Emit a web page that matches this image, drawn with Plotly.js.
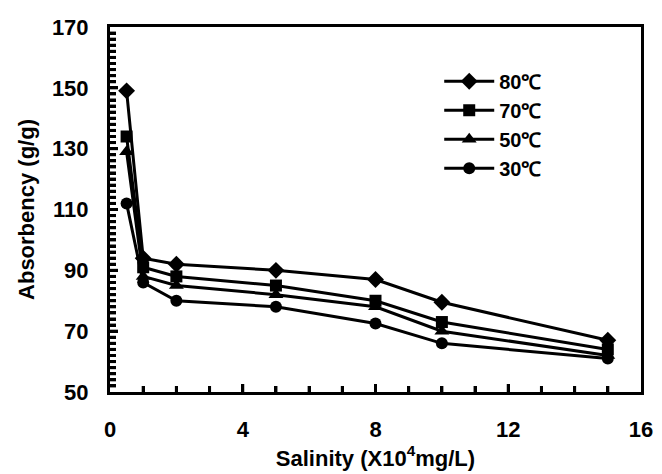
<!DOCTYPE html>
<html><head><meta charset="utf-8">
<script src="https://cdn.plot.ly/plotly-3.0.1.min.js"></script>
<style>html,body{margin:0;padding:0;background:#fff}</style>
</head><body>
<div id="chart" style="width:662px;height:474px"></div>
<script>
const salinity = [0.5, 1, 2, 5, 8, 10, 15];
const seriesNames = ['80℃', '70℃', '50℃', '30℃'];
const abs80 = [149, 94, 92, 90, 87, 79.5, 67];
const abs70 = [134, 91, 88, 85, 80, 73, 64];
const abs50 = [129, 88, 85, 82, 78, 70, 62];
const abs30 = [112, 86, 80, 78, 72.5, 66, 61];
const xRange = [0, 16];
const yRange = [50, 170];
const xTickStep = 4, xMinorStep = 1;
const yTickStep = 20, yMinorStep = 2;

const symbols = ['diamond', 'square', 'triangle-up', 'circle'];
const sizes = [13, 12, 13, 12];
const allY = [abs80, abs70, abs50, abs30];
const FAM = 'Liberation Sans, Arial, sans-serif';
const tickF = {family: FAM, size: 22, color: '#000', weight: 'bold'};
const titleF = {family: FAM, size: 22, color: '#000', weight: 'bold'};
const legF = {family: FAM, size: 20, color: '#000', weight: 'bold'};

const traces = allY.map((y, i) => ({
  x: salinity, y: y, name: seriesNames[i], type: 'scatter', mode: 'lines+markers',
  line: {color: '#000', width: 3},
  marker: {symbol: symbols[i], size: sizes[i], color: '#000'}
}));

// inward tick marks along the left and bottom axes (axis furniture, in axis units)
const shapes = [];
for (let v = xRange[0] + xMinorStep; v < xRange[1]; v += xMinorStep) {
  const len = (v % xTickStep === 0) ? 8 : 6;
  shapes.push({type: 'line', layer: 'above', xref: 'x', yref: 'y', ysizemode: 'pixel', yanchor: yRange[0],
    x0: v, x1: v, y0: 0, y1: len, line: {color: '#000', width: 3}});
}
for (let v = yRange[0] + yMinorStep; v < yRange[1]; v += yMinorStep) {
  const len = ((v - yRange[0]) % yTickStep === 0) ? 8 : 6;
  shapes.push({type: 'line', layer: 'above', xref: 'x', yref: 'y', xsizemode: 'pixel', xanchor: xRange[0],
    x0: 0, x1: len, y0: v, y1: v, line: {color: '#000', width: 3}});
}

const layout = {
  width: 662, height: 474,
  margin: {l: 110, r: 21, t: 27, b: 82},
  paper_bgcolor: '#fff', plot_bgcolor: '#fff',
  font: tickF,
  showlegend: true,
  legend: {x: 0.62, y: 0.905, xanchor: 'left', yanchor: 'top', bgcolor: 'rgba(0,0,0,0)',
    font: legF, itemwidth: 50, tracegroupgap: 0},
  shapes: shapes,
  xaxis: {
    range: xRange, tickmode: 'linear', tick0: 0, dtick: xTickStep,
    ticks: 'inside', ticklen: 8, tickwidth: 3, tickcolor: '#000',
    minor: {ticks: 'inside', dtick: xMinorStep, ticklen: 6, tickwidth: 3, tickcolor: '#000'},
    showline: true, linewidth: 3, linecolor: '#000', mirror: true,
    showgrid: false, zeroline: false, tickfont: tickF, ticklabelstandoff: 16,
    title: {text: 'Salinity (X10<sup>4</sup>mg/L)', font: titleF, standoff: 6}
  },
  yaxis: {
    range: yRange, tickmode: 'linear', tick0: 50, dtick: yTickStep,
    ticks: 'inside', ticklen: 8, tickwidth: 3, tickcolor: '#000',
    minor: {ticks: 'inside', dtick: yMinorStep, ticklen: 6, tickwidth: 3, tickcolor: '#000'},
    showline: true, linewidth: 3, linecolor: '#000', mirror: true,
    showgrid: false, zeroline: false, tickfont: tickF, ticklabelstandoff: 14,
    title: {text: 'Absorbency (g/g)', font: titleF, standoff: 12}
  }
};
Plotly.newPlot('chart', traces, layout, {displayModeBar: false, staticPlot: true});
</script>
</body></html>
